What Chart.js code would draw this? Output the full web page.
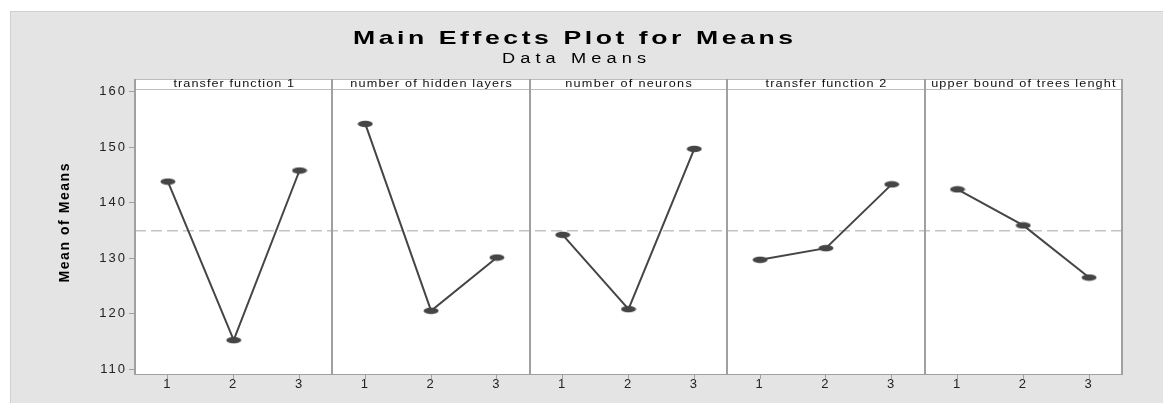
<!DOCTYPE html>
<html>
<head>
<meta charset="utf-8">
<script src="https://cdn.jsdelivr.net/npm/chart.js@4.4.1/dist/chart.umd.min.js"></script>
<style>
html, body { margin: 0; padding: 0; background: #fff; }
#frame { position: absolute; left: 10px; top: 11px; width: 1153px; height: 392px; background: #e4e4e4;
         border-top: 1px solid #cfcfcf; border-left: 1px solid #cfcfcf; box-sizing: border-box; }
#wrap { position: absolute; left: 0; top: 0; width: 1163px; height: 403px; }
</style>
</head>
<body>
<div id="frame"></div>
<div id="wrap"><canvas id="chart" width="1163" height="403"></canvas></div>
<script>
// Factors (one panel each) and their levels
const factors = ['transfer function 1', 'number of hidden layers', 'number of neurons', 'transfer function 2', 'upper bound of trees lenght'];
const levels = [1, 2, 3];

// Mean of means for each level
const tf1Means = [143.8, 115.2, 145.8];
const hiddenLayersMeans = [154.2, 120.5, 130.1];
const neuronsMeans = [134.2, 120.8, 149.7];
const tf2Means = [129.7, 131.8, 143.3];
const treeBoundMeans = [142.4, 135.9, 126.5];

const yTicks = [110, 120, 130, 140, 150, 160];

const allMeans = [tf1Means, hiddenLayersMeans, neuronsMeans, tf2Means, treeBoundMeans];
const grandMean = tf1Means.reduce((s, v) => s + v, 0) / tf1Means.length;

const FONT = '"Liberation Sans", Arial, sans-serif';
const INK = '#454545';
const FRAME = '#a0a0a0';

// ellipse marker like minitab
const dot = document.createElement('canvas');
dot.width = 16; dot.height = 8;
const dctx = dot.getContext('2d');
dctx.fillStyle = INK;
dctx.beginPath();
dctx.ellipse(8, 4, 7.5, 3.3, 0, 0, Math.PI * 2);
dctx.fill();

// each panel sits on its own stretch of the x axis: panel k, level i -> k*3 + i
const datasets = allMeans.map((means, k) => ({
    label: factors[k],
    data: means.map((v, i) => ({ x: k * levels.length + levels[i], y: v })),
    borderColor: INK,
    borderWidth: 2,
    pointStyle: dot,
    pointRadius: 4,
    order: 1
}));

const nLevels = factors.length * levels.length;
datasets.push({
    label: 'mean',
    data: [{ x: 0.5, y: grandMean }, { x: nLevels + 0.5, y: grandMean }],
    borderColor: '#c4c4c4',
    borderWidth: 1.5,
    borderDash: [11, 5],
    pointRadius: 0,
    order: 10
});

// minitab text is wide and loosely spaced: stretch it to a given width
function wideText(ctx, text, cx, y, font, width, sx) {
    ctx.save();
    ctx.font = font;
    ctx.letterSpacing = '0px';
    const w = ctx.measureText(text).width;
    const gap = Math.max(0, (width / sx - w) / (text.length - 1));
    ctx.letterSpacing = gap + 'px';
    ctx.translate(cx, y);
    ctx.scale(sx, 1);
    ctx.textAlign = 'left';
    ctx.fillText(text, -(w + gap * (text.length - 1)) / 2, 0);
    ctx.restore();
}

const panelPlugin = {
    id: 'panels',
    beforeDraw(chart) {
        chart.ctx.letterSpacing = '2px';
    },
    beforeDatasetsDraw(chart) {
        const { ctx, chartArea: a } = chart;
        ctx.save();
        ctx.fillStyle = '#fff';
        ctx.fillRect(a.left, a.top - 10, a.right - a.left, a.bottom - a.top + 10);
        ctx.restore();
    },
    afterDraw(chart) {
        const { ctx, chartArea: a, scales: { x } } = chart;
        const headTop = a.top - 10;
        ctx.save();

        // header band lines
        ctx.strokeStyle = '#bdbdbd';
        ctx.lineWidth = 1;
        ctx.beginPath();
        ctx.moveTo(a.left, headTop + 0.5); ctx.lineTo(a.right, headTop + 0.5);
        ctx.moveTo(a.left, a.top + 0.5); ctx.lineTo(a.right, a.top + 0.5);
        ctx.stroke();

        // panel dividers
        ctx.strokeStyle = FRAME;
        ctx.lineWidth = 2;
        ctx.beginPath();
        for (let k = 0; k <= factors.length; k++) {
            const px = Math.round(x.getPixelForValue(k * levels.length + 0.5));
            ctx.moveTo(px, headTop);
            ctx.lineTo(px, a.bottom);
        }
        ctx.stroke();

        // panel headers
        ctx.fillStyle = '#111';
        ctx.textBaseline = 'alphabetic';
        factors.forEach((f, k) => {
            const l = x.getPixelForValue(k * levels.length + 0.5);
            const r = x.getPixelForValue((k + 1) * levels.length + 0.5);
            ctx.font = '11px ' + FONT;
            ctx.letterSpacing = '0px';
            const w = ctx.measureText(f).width * 1.37;
            wideText(ctx, f, (l + r) / 2, a.top - 2, '11px ' + FONT, Math.min(w, r - l - 6), 1.15);
        });

        // titles
        ctx.fillStyle = '#000';
        wideText(ctx, 'Main Effects Plot for Means', 573, 44, 'bold 19px ' + FONT, 440, 1.4);
        wideText(ctx, 'Data Means', 574, 63, '14px ' + FONT, 144, 1.3);

        // y axis title
        ctx.translate(65, 223);
        ctx.rotate(-Math.PI / 2);
        ctx.textBaseline = 'middle';
        wideText(ctx, 'Mean of Means', 0, 0, 'bold 14px ' + FONT, 119, 1.0);
        ctx.restore();
    }
};

new Chart(document.getElementById('chart'), {
    type: 'line',
    data: { datasets: datasets },
    options: {
        responsive: false,
        animation: false,
        layout: { padding: { top: 89, right: 41, bottom: 0, left: 0 } },
        plugins: {
            legend: { display: false },
            tooltip: { enabled: false }
        },
        scales: {
            x: {
                type: 'linear',
                min: 0.5,
                max: nLevels + 0.5,
                afterFit: (s) => { s.height = 29; },
                afterBuildTicks: (s) => {
                    const t = [];
                    for (let v = 1; v <= nLevels; v++) t.push({ value: v });
                    s.ticks = t;
                },
                ticks: {
                    padding: -2,
                    color: '#222',
                    font: { family: FONT, size: 13 },
                    callback: (v) => levels[(v - 1) % levels.length]
                },
                grid: { drawOnChartArea: false, drawTicks: true, tickLength: 5, color: FRAME },
                border: { display: true, color: FRAME, width: 2 }
            },
            y: {
                min: 109.1,
                max: 160.5,
                afterFit: (s) => { s.width = 135; },
                afterBuildTicks: (s) => { s.ticks = yTicks.map(v => ({ value: v })); },
                ticks: {
                    padding: 2,
                    color: '#222',
                    font: { family: FONT, size: 13 }
                },
                grid: { drawOnChartArea: false, drawTicks: true, tickLength: 6, color: FRAME },
                border: { display: true, color: FRAME, width: 2 }
            }
        }
    },
    plugins: [panelPlugin]
});
</script>
</body>
</html>
